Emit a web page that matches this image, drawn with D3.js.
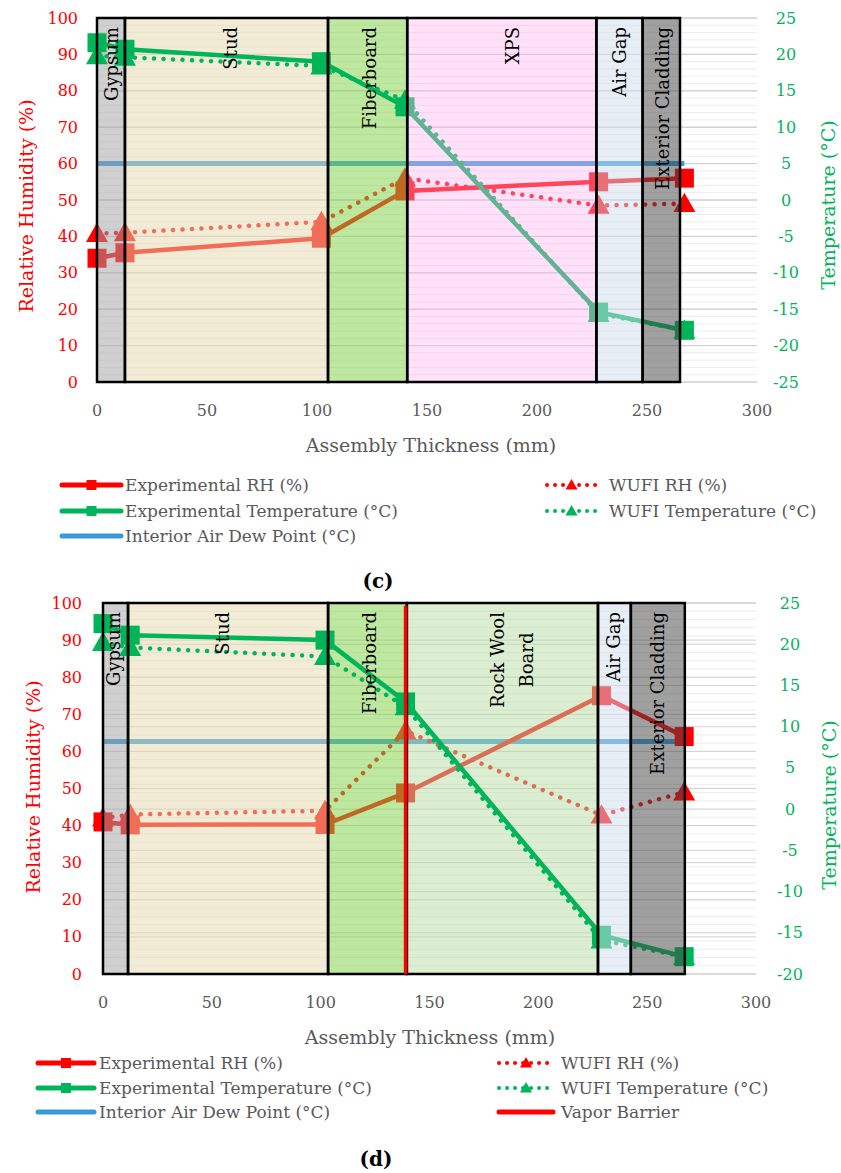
<!DOCTYPE html>
<html><head><meta charset="utf-8">
<script src="https://cdn.jsdelivr.net/npm/d3@7"></script>
<style>
body{margin:0;background:#fff}
svg{display:block}
text{font-family:"DejaVu Serif",serif}
</style>
</head><body>
<svg id="chart" width="841" height="1173"></svg>
<script>
// ---------------- DATA ----------------
const xTicks = [0, 50, 100, 150, 200, 250, 300];
const rhTicks = [0, 10, 20, 30, 40, 50, 60, 70, 80, 90, 100];
const tTicksC = [-25, -20, -15, -10, -5, 0, 5, 10, 15, 20, 25];
const tTicksD = [-20, -15, -10, -5, 0, 5, 10, 15, 20, 25];

// Panel (c)
const layerNamesC = ["Gypsum", "Stud", "Fiberboard", "XPS", "Air Gap", "Exterior Cladding"];
const layerEdgesC = [0, 12.7, 105, 141, 227, 248, 265];
const positionsC = [0, 12.7, 102, 140, 228, 267];
const expRH_C  = [34, 35.5, 39.5, 52.5, 55, 56];
const wufiRH_C = [40.8, 41, 44, 56, 48.5, 49];
const expT_C   = [21.6, 20.7, 19, 12.8, -15.4, -17.9];
const wufiT_C  = [19.8, 19.6, 18.4, 13.7, -15.6, -17.9];
const dewPointC = 5;

// Panel (d)
const layerNamesD = ["Gypsum", "Stud", "Fiberboard", "Rock Wool|Board", "Air Gap", "Exterior Cladding"];
const layerEdgesD = [0, 11.5, 103.4, 139.6, 227.4, 242.5, 267.3];
const positionsD = [0, 12.5, 102, 139, 229, 267];
const expRH_D  = [41, 40.2, 40.3, 48.8, 75, 64];
const wufiRH_D = [42, 43, 44, 65.5, 42.8, 49];
const expT_D   = [22.5, 21.1, 20.5, 13.0, -15.3, -17.9];
const wufiT_D  = [20.2, 19.6, 18.5, 12.4, -15.9, -17.9];
const dewPointD = 8.2;
const vaporBarrierD = 139;

const legendLeft = ["Experimental RH (%)", "Experimental Temperature (°C)", "Interior Air Dew Point (°C)"];
const legendRightC = ["WUFI RH (%)", "WUFI Temperature (°C)"];
const legendRightD = ["WUFI RH (%)", "WUFI Temperature (°C)", "Vapor Barrier"];

// ---------------- STYLE ----------------
const RED = "#ff0000", GREEN = "#00b45a", BLUE = "#3a9ad9", GRAY = "#595959";
const layerFill = {
  "Gypsum": "#a1a1a1", "Stud": "#e5d9ad", "Fiberboard": "#7dd141", "XPS": "#ffb3f2",
  "Air Gap": "#d1dded", "Exterior Cladding": "#414141", "Rock Wool|Board": "#b9dda5"
};
const layerAlpha = {"XPS": 0.38};
const aboveTemp = {"XPS": true, "Air Gap": true, "Exterior Cladding": true};
const labelShiftC = [1, 4, 2, 11, 0, 1];
const labelShiftD = [-2, -6, 2, 10, -1, 0];

const svg = d3.select("#chart");

function tri(s) { return `M0,${-s*0.55}L${s*0.55},${s*0.42}L${-s*0.55},${s*0.42}Z`; }

function panel(cfg) {
  const g = svg.append("g");
  const x = d3.scaleLinear().domain([0, 300]).range([cfg.x0, cfg.x1]);
  const yRH = d3.scaleLinear().domain([0, 100]).range([cfg.yB, cfg.yT]);
  const yT = d3.scaleLinear().domain(cfg.tDomain).range([cfg.yB, cfg.yT]);

  // gridlines
  const minor = d3.range(cfg.tDomain[0], cfg.tDomain[1] + 0.01, 1);
  g.append("g").selectAll("line").data(minor).join("line")
    .attr("x1", x(0)).attr("x2", x(300)).attr("y1", d => yT(d)).attr("y2", d => yT(d))
    .attr("stroke", "#ececec").attr("stroke-width", 1);
  g.append("g").selectAll("line").data(cfg.tTicks).join("line")
    .attr("x1", x(0)).attr("x2", x(300)).attr("y1", d => yT(d)).attr("y2", d => yT(d))
    .attr("stroke", "#d6d6d6").attr("stroke-width", 1);
  g.append("g").selectAll("line").data(rhTicks).join("line")
    .attr("x1", x(0)).attr("x2", x(300)).attr("y1", d => yRH(d)).attr("y2", d => yRH(d))
    .attr("stroke", "#d0d0d0").attr("stroke-width", 1);

  // dew point
  g.append("line").attr("x1", x(0)).attr("x2", x(cfg.pos[cfg.pos.length - 1]))
    .attr("y1", yT(cfg.dew)).attr("y2", yT(cfg.dew))
    .attr("stroke", BLUE).attr("stroke-width", 5);

  function series(vals, yScale, color, dotted) {
    const pts = vals.map((v, i) => [x(cfg.pos[i]), yScale(v)]);
    const sg = g.append("g");
    sg.append("path").attr("d", d3.line()(pts)).attr("fill", "none")
      .attr("stroke", color).attr("stroke-width", 4.5)
      .attr("stroke-linecap", "round")
      .attr("stroke-dasharray", dotted ? "0.01 9.5" : null);
    if (dotted) {
      sg.selectAll("path.m").data(pts).join("path").attr("class", "m")
        .attr("transform", d => `translate(${d[0]},${d[1]})`)
        .attr("d", tri(20)).attr("fill", color);
    } else {
      sg.selectAll("rect").data(pts).join("rect")
        .attr("x", d => d[0] - 9.5).attr("y", d => d[1] - 9.5)
        .attr("width", 19).attr("height", 19).attr("fill", color);
    }
  }

  // RH series (beneath all layers)
  series(cfg.expRH, yRH, RED, false);
  series(cfg.wufiRH, yRH, RED, true);

  const layers = cfg.names.map((n, i) => ({name: n, a: cfg.edges[i], b: cfg.edges[i + 1], i}));
  function fills(sel) {
    g.append("g").selectAll("rect").data(sel).join("rect")
      .attr("x", d => x(d.a)).attr("width", d => x(d.b) - x(d.a))
      .attr("y", yRH(100)).attr("height", yRH(0) - yRH(100))
      .attr("fill", d => layerFill[d.name]).attr("fill-opacity", d => layerAlpha[d.name] || 0.5);
  }
  fills(layers.filter(d => !aboveTemp[d.name]));
  // temperature series
  series(cfg.expT, yT, GREEN, false);
  series(cfg.wufiT, yT, GREEN, true);
  fills(layers.filter(d => aboveTemp[d.name]));

  // outlines
  g.append("g").selectAll("rect").data(layers).join("rect")
    .attr("x", d => x(d.a)).attr("width", d => x(d.b) - x(d.a))
    .attr("y", yRH(100)).attr("height", yRH(0) - yRH(100))
    .attr("fill", "none").attr("stroke", "#000").attr("stroke-width", 2.5);

  if (cfg.vapor != null) {
    g.append("line").attr("x1", x(cfg.vapor)).attr("x2", x(cfg.vapor))
      .attr("y1", yRH(100) + 3).attr("y2", yRH(0))
      .attr("stroke", RED).attr("stroke-width", 3.5);
  }

  // layer labels
  layers.forEach(d => {
    const cx = (x(d.a) + x(d.b)) / 2 + cfg.shift[d.i];
    const lines = d.name.split("|");
    if (lines.length === 1) {
      g.append("text").attr("transform", `translate(${cx},${yRH(100) + 9}) rotate(-90)`)
        .attr("text-anchor", "end").attr("dominant-baseline", "central")
        .attr("font-size", 18).attr("fill", "#000").text(d.name);
    } else {
      lines.forEach((t, k) => {
        g.append("text").attr("transform", `translate(${cx - 14.5 + k * 29},${cfg.multiY}) rotate(-90)`)
          .attr("text-anchor", "middle").attr("dominant-baseline", "central")
          .attr("font-size", 18).attr("fill", "#000").text(t);
      });
    }
  });

  // axes labels
  g.append("g").selectAll("text").data(xTicks).join("text")
    .attr("x", d => x(d)).attr("y", cfg.xTickY).attr("text-anchor", "middle")
    .attr("dominant-baseline", "central").attr("font-size", 16).attr("fill", GRAY).text(d => d);
  g.append("g").selectAll("text").data(rhTicks).join("text")
    .attr("x", cfg.leftTickX).attr("y", d => yRH(d)).attr("text-anchor", "end")
    .attr("dominant-baseline", "central").attr("font-size", 16).attr("fill", RED).text(d => d);
  g.append("g").selectAll("text").data(cfg.tTicks).join("text")
    .attr("x", cfg.rightTickX).attr("y", d => yT(d)).attr("text-anchor", "middle")
    .attr("dominant-baseline", "central").attr("font-size", 16).attr("fill", GREEN).text(d => String(d));

  g.append("text").attr("transform", `translate(${cfg.leftTitle[0]},${cfg.leftTitle[1]}) rotate(-90)`)
    .attr("text-anchor", "middle").attr("dominant-baseline", "central")
    .attr("font-size", 19).attr("fill", RED).text("Relative Humidity (%)");
  g.append("text").attr("transform", `translate(${cfg.rightTitle[0]},${cfg.rightTitle[1]}) rotate(-90)`)
    .attr("text-anchor", "middle").attr("dominant-baseline", "central")
    .attr("font-size", 19).attr("fill", GREEN).text("Temperature (°C)");
  g.append("text").attr("x", cfg.bottomTitle[0]).attr("y", cfg.bottomTitle[1])
    .attr("text-anchor", "middle").attr("dominant-baseline", "central")
    .attr("font-size", 19).attr("fill", GRAY).text("Assembly Thickness (mm)");

  // legend
  const L = cfg.legend;
  const leftStyles = [[RED, "sq"], [GREEN, "sq"], [BLUE, null]];
  legendLeft.forEach((t, k) => {
    const yy = L.rows[k];
    g.append("line").attr("x1", L.left[0]).attr("x2", L.left[1]).attr("y1", yy).attr("y2", yy)
      .attr("stroke", leftStyles[k][0]).attr("stroke-width", 5).attr("stroke-linecap", "round");
    if (leftStyles[k][1]) {
      const mx = (L.left[0] + L.left[1]) / 2;
      g.append("rect").attr("x", mx - 5).attr("y", yy - 5).attr("width", 10).attr("height", 10)
        .attr("fill", leftStyles[k][0]);
    }
    g.append("text").attr("x", L.left[2]).attr("y", yy).attr("dominant-baseline", "central")
      .attr("font-size", 17).attr("fill", GRAY).text(t);
  });
  const rightStyles = [[RED, true], [GREEN, true], [RED, false]];
  cfg.rightNames.forEach((t, k) => {
    const yy = L.rows[k];
    const c = rightStyles[k][0], dotted = rightStyles[k][1];
    g.append("line").attr("x1", L.right[0]).attr("x2", L.right[1]).attr("y1", yy).attr("y2", yy)
      .attr("stroke", c).attr("stroke-width", dotted ? 4 : 5).attr("stroke-linecap", "round")
      .attr("stroke-dasharray", dotted ? "0.01 8" : null);
    if (dotted) {
      const mx = (L.right[0] + L.right[1]) / 2;
      g.append("path").attr("transform", `translate(${mx},${yy})`).attr("d", tri(11)).attr("fill", c);
    }
    g.append("text").attr("x", L.right[2]).attr("y", yy).attr("dominant-baseline", "central")
      .attr("font-size", 17).attr("fill", GRAY).text(t);
  });

  g.append("text").attr("x", cfg.caption[0]).attr("y", cfg.caption[1])
    .attr("text-anchor", "middle").attr("dominant-baseline", "central")
    .attr("font-size", 20).attr("font-weight", "bold").attr("fill", "#000").text(cfg.captionText);
}

panel({
  x0: 97, x1: 757, yT: 18, yB: 382, tDomain: [-25, 25], tTicks: tTicksC,
  names: layerNamesC, edges: layerEdgesC, shift: labelShiftC, pos: positionsC,
  expRH: expRH_C, wufiRH: wufiRH_C, expT: expT_C, wufiT: wufiT_C, dew: dewPointC, vapor: null,
  xTickY: 410, leftTickX: 78, rightTickX: 786,
  leftTitle: [26, 206], rightTitle: [828, 205], bottomTitle: [431, 445],
  legend: {rows: [485, 511, 536], left: [62, 121, 125], right: [547, 596, 609]},
  rightNames: legendRightC, caption: [378, 581], captionText: "(c)"
});

panel({
  x0: 103, x1: 756, yT: 603, yB: 974, tDomain: [-20, 25], tTicks: tTicksD,
  names: layerNamesD, edges: layerEdgesD, shift: labelShiftD, pos: positionsD,
  expRH: expRH_D, wufiRH: wufiRH_D, expT: expT_D, wufiT: wufiT_D, dew: dewPointD, vapor: vaporBarrierD,
  multiY: 660,
  xTickY: 1002, leftTickX: 82, rightTickX: 790,
  leftTitle: [33, 787], rightTitle: [829, 805], bottomTitle: [430, 1037],
  legend: {rows: [1063, 1088, 1112], left: [38, 94, 99], right: [499, 553, 561]},
  rightNames: legendRightD, caption: [376, 1159], captionText: "(d)"
});
</script>
</body></html>
